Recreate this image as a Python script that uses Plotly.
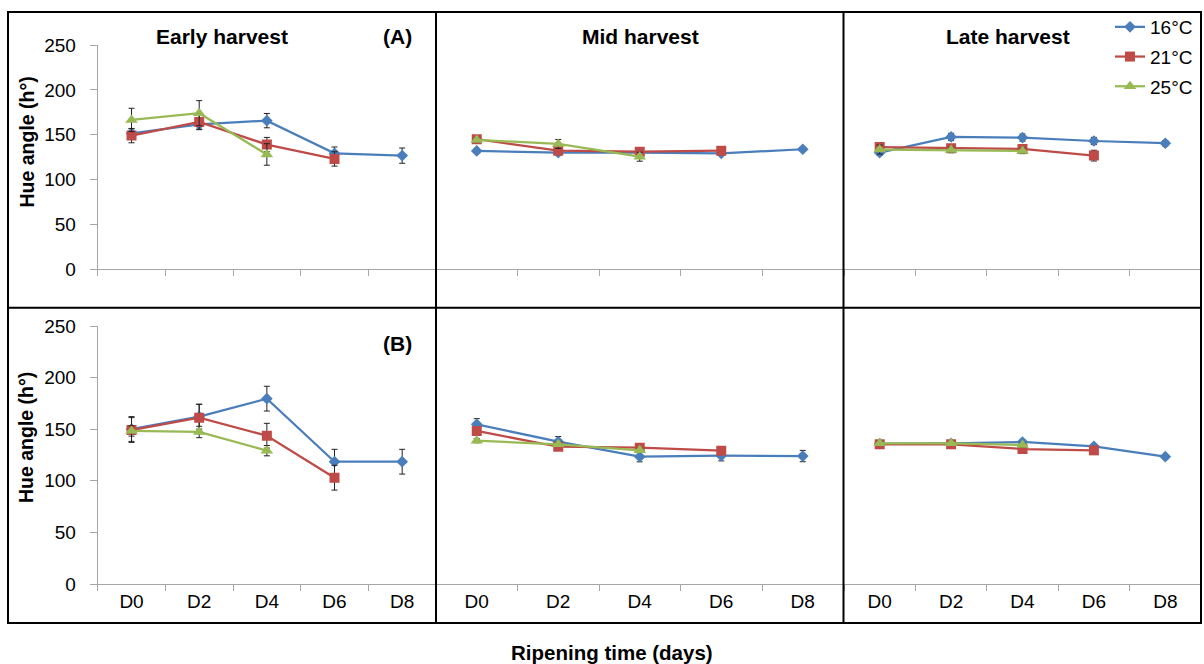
import plotly.graph_objects as go

# ---------------- data ----------------
days = ["D0", "D2", "D4", "D6", "D8"]
series_names = ["16°C", "21°C", "25°C"]
harvest_titles = ["Early harvest", "Mid harvest", "Late harvest"]
y_ticks = [0, 50, 100, 150, 200, 250]

# (A) row
a_early_16 = [151.6, 161.6, 165.7, 129.3, 126.7]
a_early_16_err = [5, 6, 8, 7, 8.5]
a_early_21 = [149.0, 164.2, 139.0, 123.0]
a_early_21_err = [8, 8, 8, 8]
a_early_25 = [166.5, 174.0, 128.0]
a_early_25_err = [13, 14, 12]

a_mid_16 = [131.9, 130.0, 130.0, 129.3, 133.8]
a_mid_16_err = [2, 2, 2, 2, 2]
a_mid_21 = [145.0, 132.2, 131.1, 132.2]
a_mid_21_err = [3, 2, 2, 2]
a_mid_25 = [144.2, 139.7, 125.5]
a_mid_25_err = [2, 5, 5]

a_late_16 = [130.0, 147.5, 146.8, 143.0, 140.5]
a_late_16_err = [3, 4, 4, 4, 3]
a_late_21 = [136.3, 134.9, 134.1, 126.7]
a_late_21_err = [3, 4, 4, 6]
a_late_25 = [133.4, 133.0, 131.9]
a_late_25_err = [5, 3, 3]

# (B) row
b_early_16 = [150.2, 162.1, 179.6, 118.5, 118.5]
b_early_16_err = [12, 12, 12, 12, 12]
b_early_21 = [149.2, 161.2, 143.7, 103.0]
b_early_21_err = [12, 13, 12, 12]
b_early_25 = [148.3, 147.3, 129.2]
b_early_25_err = [5, 5.5, 5]

b_mid_16 = [154.7, 137.9, 123.4, 124.3, 124.0]
b_mid_16_err = [5.5, 5, 5, 5, 5.5]
b_mid_21 = [148.3, 133.0, 132.1, 129.2]
b_mid_21_err = [2, 2, 2, 2]
b_mid_25 = [138.9, 135.4, 129.5]
b_mid_25_err = [2, 2, 2]

b_late_16 = [136.0, 136.3, 137.6, 133.4, 123.4]
b_late_16_err = [2, 2, 2, 2, 2]
b_late_21 = [135.4, 135.4, 130.8, 129.5]
b_late_21_err = [2, 2, 2, 2]
b_late_25 = [136.3, 136.3, 134.7]
b_late_25_err = [2, 2, 2]

panels = [
    [(a_early_16, a_early_16_err), (a_early_21, a_early_21_err), (a_early_25, a_early_25_err)],
    [(a_mid_16, a_mid_16_err), (a_mid_21, a_mid_21_err), (a_mid_25, a_mid_25_err)],
    [(a_late_16, a_late_16_err), (a_late_21, a_late_21_err), (a_late_25, a_late_25_err)],
    [(b_early_16, b_early_16_err), (b_early_21, b_early_21_err), (b_early_25, b_early_25_err)],
    [(b_mid_16, b_mid_16_err), (b_mid_21, b_mid_21_err), (b_mid_25, b_mid_25_err)],
    [(b_late_16, b_late_16_err), (b_late_21, b_late_21_err), (b_late_25, b_late_25_err)],
]

# ---------------- styling ----------------
W, H = 1204, 664
FONT = "Arial, Liberation Sans, sans-serif"
colors = ["#4a7ebb", "#be4b48", "#98b954"]
symbols = ["diamond", "square", "triangle-up"]
sizes = [9, 10, 11]
AXIS_GRAY = "#a6a6a6"


def px(x):
    return x / W


def py(y):
    return 1 - y / H


x_domains = [(97.7, 436), (436, 843.5), (844, 1201)]
y_domains = [(45, 269.3), (326, 584)]

fig = go.Figure()
layout = {}

for idx, pdata in enumerate(panels):
    row, col = divmod(idx, 3)
    n = idx + 1
    xs = "" if n == 1 else str(n)
    xd = x_domains[col]
    yd = y_domains[row]
    layout["xaxis" + xs] = dict(
        domain=[px(xd[0]), px(xd[1])],
        anchor="y" + xs,
        type="category",
        categoryorder="array",
        categoryarray=days,
        range=[-0.5, 4.5],
        tickson="boundaries",
        ticks="outside",
        ticklen=6,
        tickcolor=AXIS_GRAY,
        showline=True,
        linecolor=AXIS_GRAY,
        linewidth=1,
        showgrid=False,
        zeroline=False,
        automargin=False,
        showticklabels=(row == 1),
        tickfont=dict(family=FONT, size=19, color="black"),
        fixedrange=True,
    )
    ycfg = dict(
        domain=[py(yd[1]), py(yd[0])],
        anchor="x" + xs,
        range=[0, 250],
        tickvals=y_ticks,
        showgrid=False,
        zeroline=False,
        automargin=False,
        fixedrange=True,
    )
    if col == 0:
        ycfg.update(
            showline=True,
            linecolor=AXIS_GRAY,
            linewidth=1,
            ticks="outside",
            ticklen=7,
            tickcolor=AXIS_GRAY,
            ticklabelstandoff=10,
            tickfont=dict(family=FONT, size=19, color="black"),
        )
    else:
        ycfg.update(visible=False)
    layout["yaxis" + xs] = ycfg

    for s, (vals, errs) in enumerate(pdata):
        fig.add_trace(
            go.Scatter(
                x=days[: len(vals)],
                y=vals,
                mode="lines+markers",
                name=series_names[s],
                legendgroup=series_names[s],
                showlegend=(idx == 0),
                line=dict(color=colors[s], width=2.25),
                marker=dict(symbol=symbols[s], size=sizes[s], color=colors[s]),
                error_y=dict(type="data", array=errs, visible=True,
                             color="#222222", thickness=1, width=3),
                xaxis="x" + xs,
                yaxis="y" + xs,
            )
        )

TITLE_SIZE = 21
annotations = []
title_x = [222, 640, 1008]
for c in range(3):
    annotations.append(dict(text="<b>" + harvest_titles[c] + "</b>", x=px(title_x[c]), y=py(36),
                            xref="paper", yref="paper", showarrow=False,
                            font=dict(family=FONT, size=TITLE_SIZE, color="black"),
                            xanchor="center", yanchor="middle"))
annotations.append(dict(text="<b>(A)</b>", x=px(397), y=py(36), xref="paper", yref="paper",
                        showarrow=False, font=dict(family=FONT, size=TITLE_SIZE, color="black"),
                        xanchor="center", yanchor="middle"))
annotations.append(dict(text="<b>(B)</b>", x=px(397), y=py(343), xref="paper", yref="paper",
                        showarrow=False, font=dict(family=FONT, size=TITLE_SIZE, color="black"),
                        xanchor="center", yanchor="middle"))
for yc in (142.5, 438):
    annotations.append(dict(text="<b>Hue angle (h°)</b>", x=px(26), y=py(yc), xref="paper",
                            yref="paper", showarrow=False, textangle=-90,
                            font=dict(family=FONT, size=19.5, color="black"),
                            xanchor="center", yanchor="middle"))
annotations.append(dict(text="<b>Ripening time (days)</b>", x=px(611.7), y=py(652),
                        xref="paper", yref="paper", showarrow=False,
                        font=dict(family=FONT, size=20.5, color="black"),
                        xanchor="center", yanchor="middle"))

line_style = dict(color="black", width=2)
shapes = [
    dict(type="rect", xref="paper", yref="paper", x0=px(8), x1=px(1201), y0=py(12), y1=py(623),
         line=line_style, layer="above"),
    dict(type="line", xref="paper", yref="paper", x0=px(8), x1=px(1201), y0=py(307.7), y1=py(307.7),
         line=line_style, layer="above"),
    dict(type="line", xref="paper", yref="paper", x0=px(436), x1=px(436), y0=py(12), y1=py(623),
         line=line_style, layer="above"),
    dict(type="line", xref="paper", yref="paper", x0=px(843.5), x1=px(843.5), y0=py(12), y1=py(623),
         line=line_style, layer="above"),
]

fig.update_layout(
    width=W,
    height=H,
    autosize=False,
    margin=dict(l=0, r=0, t=0, b=0, pad=0),
    paper_bgcolor="white",
    plot_bgcolor="white",
    font=dict(family=FONT, color="black"),
    showlegend=True,
    legend=dict(x=px(1110), y=py(8), xanchor="left", yanchor="top",
                font=dict(family=FONT, size=19, color="black"),
                bgcolor="rgba(0,0,0,0)", borderwidth=0, tracegroupgap=2, itemwidth=30),
    annotations=annotations,
    shapes=shapes,
    **layout,
)

fig.write_html("out.html")
